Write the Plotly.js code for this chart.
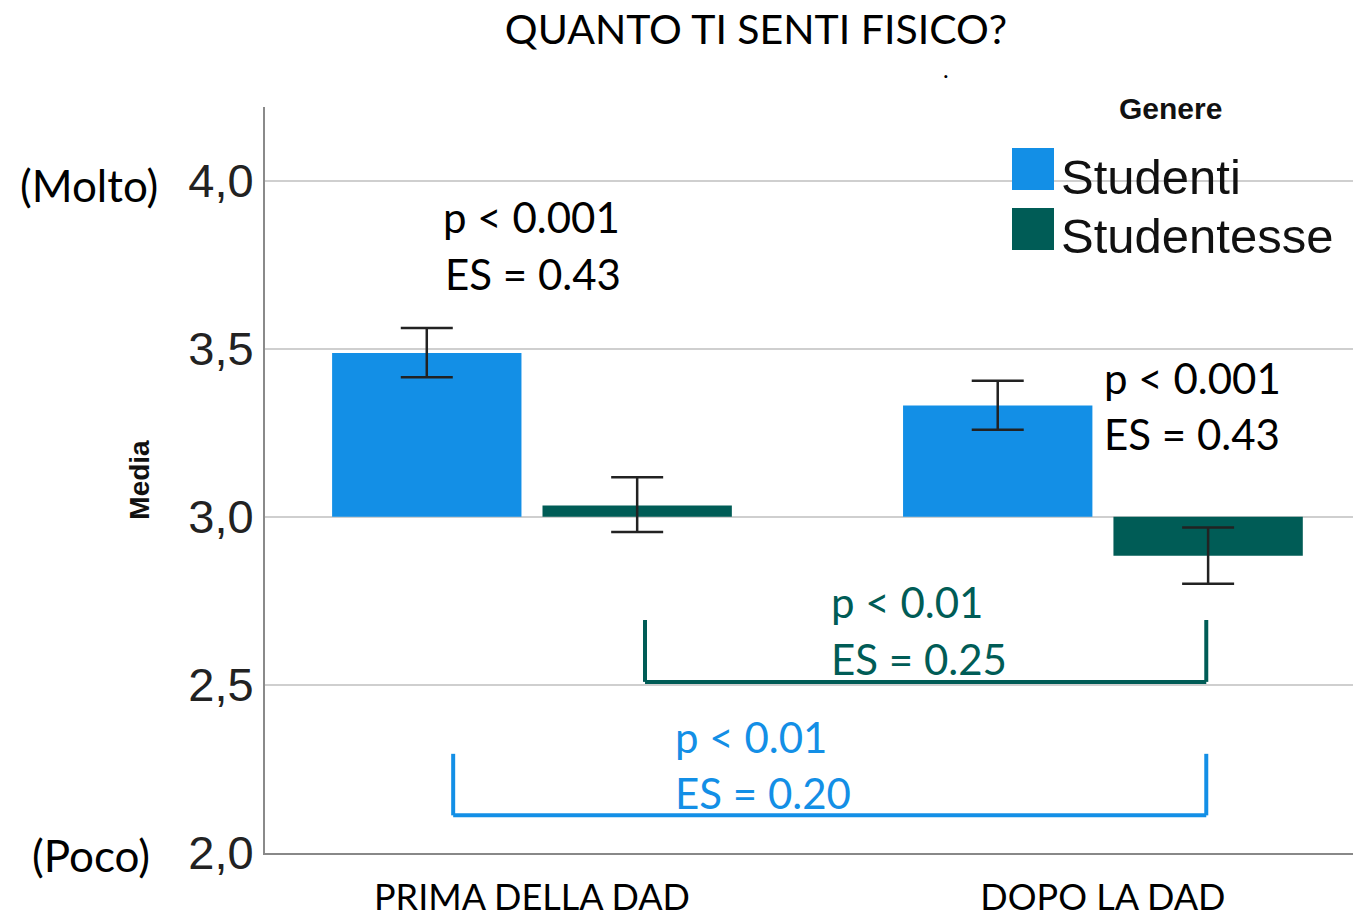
<!DOCTYPE html>
<html>
<head>
<meta charset="utf-8">
<script src="https://cdn.plot.ly/plotly-3.0.1.min.js"></script>
<style>html,body{margin:0;padding:0;background:#fff;}#chart{width:1353px;height:923px;}</style>
</head>
<body>
<div id="chart"></div>
<script>
// ---- data ----
const categories = ['PRIMA DELLA DAD', 'DOPO LA DAD'];
const seriesNames = ['Studenti', 'Studentesse'];
const studenti = [3.487, 3.331];
const studentiHi = [3.562, 3.405];
const studentiLo = [3.415, 3.259];
const studentesse = [3.034, 2.884];
const studentesseHi = [3.118, 2.968];
const studentesseLo = [2.955, 2.801];
const baseline = 3.0;
const yTicks = [2.0, 2.5, 3.0, 3.5, 4.0];
const title = 'QUANTO TI SENTI FISICO?';
const yTitle = 'Media';
const legendTitle = 'Genere';
const withinStats = ['p < 0.001', 'ES = 0.43'];
const betweenFemale = ['p < 0.01', 'ES = 0.25'];
const betweenMale = ['p < 0.01', 'ES = 0.20'];

// ---- styling ----
const blue = '#138fe6';
const teal = '#005c56';
const W = 1353, H = 923;
const M = {l: 265, r: 0, t: 107, b: 70};
const pw = W - M.l - M.r, ph = H - M.t - M.b;
const px = x => (x - M.l) / pw;          // pixel -> paper x
const py = y => (H - M.b - y) / ph;      // pixel -> paper y

function barTrace(name, vals, hi, lo, color) {
  return {
    type: 'bar', name: name, x: categories,
    y: vals.map(v => v - baseline), base: baseline,
    marker: {color: color, line: {width: 0}},
    error_y: {type: 'data', symmetric: false,
      array: hi.map((h, i) => h - vals[i]),
      arrayminus: lo.map((l, i) => vals[i] - l),
      color: '#222', thickness: 2.5, width: 26},
    hoverinfo: 'skip'
  };
}

const data = [
  barTrace(seriesNames[0], studenti, studentiHi, studentiLo, blue),
  barTrace(seriesNames[1], studentesse, studentesseHi, studentesseLo, teal)
];

const annFont = (size, color) => ({family: 'Lato, "Open Sans", sans-serif', size: size, color: color});
const annotations = [];
function textAt(text, x, y, font, xanchor) {
  annotations.push({text: text, xref: 'paper', yref: 'paper', x: px(x), y: py(y),
    xanchor: xanchor || 'left', yanchor: 'middle', showarrow: false, font: font});
}
// side labels
textAt('(Molto)', 89, 185, annFont(44, '#000'), 'center');
textAt('(Poco)', 91, 855, annFont(44, '#000'), 'center');
// stats
textAt(withinStats[0], 441, 217, annFont(42, '#000'));
textAt(withinStats[1], 443, 274, annFont(42, '#000'));
textAt(withinStats[0], 1102, 378, annFont(42, '#000'));
textAt(withinStats[1], 1102, 434, annFont(42, '#000'));
textAt(betweenFemale[0], 829, 602, annFont(42, teal));
textAt(betweenFemale[1], 829, 659, annFont(42, teal));
textAt(betweenMale[0], 673, 737, annFont(42, blue));
textAt(betweenMale[1], 673, 793, annFont(42, blue));
// legend
textAt(legendTitle, 1170, 108, {family: '"Liberation Sans", Arial, sans-serif', size: 30, color: '#111', weight: 'bold'}, 'center');
textAt(seriesNames[0], 1059, 177, {family: '"Liberation Sans", Arial, sans-serif', size: 49, color: '#111'});
textAt(seriesNames[1], 1059, 236, {family: '"Liberation Sans", Arial, sans-serif', size: 49, color: '#111'});
// stray dot
textAt('.', 946, 68, annFont(24, '#000'), 'center');

const shapes = [];
function swatch(x0, y0, x1, y1, color) {
  shapes.push({type: 'rect', xref: 'paper', yref: 'paper', x0: px(x0), x1: px(x1), y0: py(y1), y1: py(y0),
    fillcolor: color, line: {width: 0}, layer: 'above'});
}
swatch(1012, 148, 1054, 190, blue);
swatch(1012, 208, 1054, 250, teal);
function bracket(xa, xb, yTop, yBot, color) {
  const ln = {color: color, width: 4};
  shapes.push({type: 'line', xref: 'x', yref: 'y', x0: xa, x1: xa, y0: yTop, y1: yBot, line: ln});
  shapes.push({type: 'line', xref: 'x', yref: 'y', x0: xa, x1: xb, y0: yBot, y1: yBot, line: ln});
  shapes.push({type: 'line', xref: 'x', yref: 'y', x0: xb, x1: xb, y0: yBot, y1: yTop, line: ln});
}
bracket(0.198, 1.181, 2.693, 2.509, teal);
bracket(-0.138, 1.181, 2.295, 2.112, blue);

const layout = {
  width: W, height: H,
  margin: M,
  paper_bgcolor: '#fff', plot_bgcolor: '#fff',
  separators: ',.',
  showlegend: false,
  barmode: 'group', bargap: 0.263, bargroupgap: 0.1,
  title: {text: title, x: px(756), xref: 'paper', xanchor: 'center',
    y: 1 - 30 / H, yref: 'container', yanchor: 'middle',
    font: {family: 'Lato, "Open Sans", sans-serif', size: 41, color: '#000'}},
  xaxis: {type: 'category', range: [-0.4676, 1.438], showgrid: false,
    showline: true, linecolor: '#888', linewidth: 2, ticks: '', ticklabelstandoff: 12,
    tickfont: {family: 'Lato, "Open Sans", sans-serif', size: 36, color: '#000'},
    fixedrange: true},
  yaxis: {range: [2.0, 4.219], tickvals: yTicks, tickformat: '.1f',
    showgrid: true, gridcolor: '#cfcfcf', gridwidth: 2, zeroline: false,
    showline: true, linecolor: '#8a8a8a', linewidth: 2, ticks: '', ticklabelstandoff: 0,
    tickfont: {family: '"Liberation Sans", Arial, sans-serif', size: 47, color: '#222'},
    title: {text: yTitle, standoff: 30, font: {family: '"Liberation Sans", Arial, sans-serif', size: 28, color: '#111', weight: 'bold'}},
    fixedrange: true},
  annotations: annotations,
  shapes: shapes
};

Plotly.newPlot('chart', data, layout, {displayModeBar: false, staticPlot: true});
</script>
</body>
</html>
